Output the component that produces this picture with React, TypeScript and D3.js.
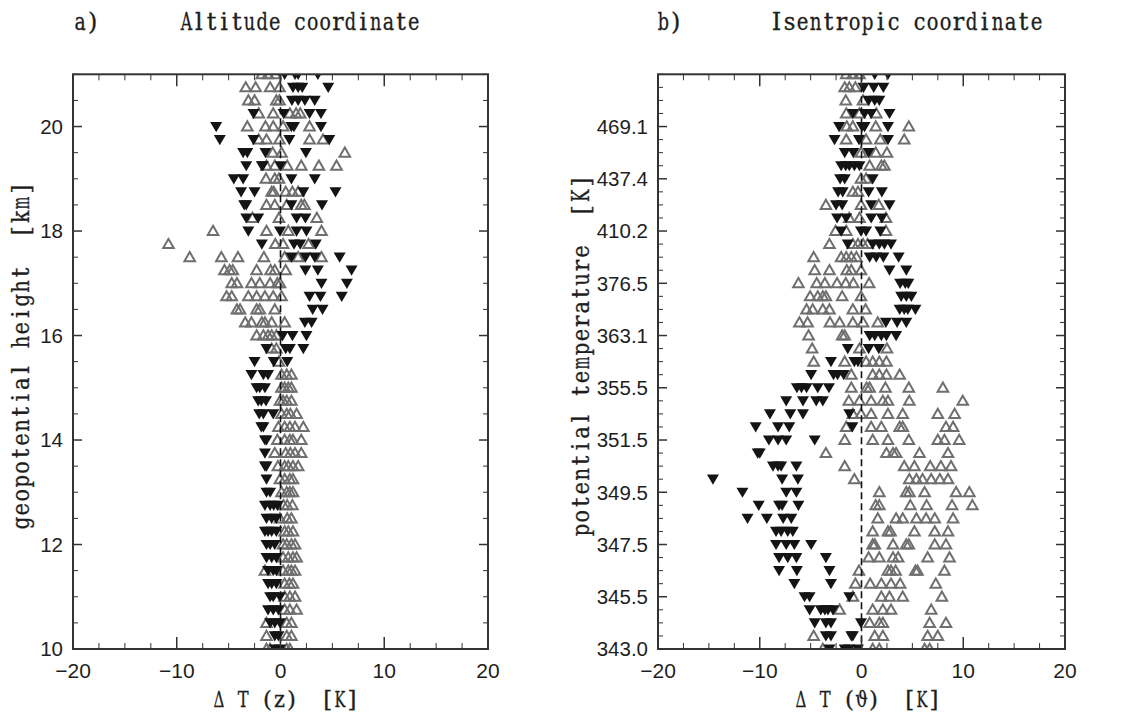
import React from "react";
import * as d3 from "d3";

// Row levels (geopotential height in km for panel a; level index positions for panel b)
const rowLevels = [21, 20.75, 20.5, 20.25, 20, 19.75, 19.5, 19.25, 19, 18.75, 18.5, 18.25, 18, 17.75, 17.5, 17.25, 17, 16.75, 16.5, 16.25, 16, 15.75, 15.5, 15.25, 15, 14.75, 14.5, 14.25, 14, 13.75, 13.5, 13.25, 13, 12.75, 12.5, 12.25, 12, 11.75, 11.5, 11.25, 11, 10.75, 10.5, 10.25, 10];

// Panel a: open grey up-triangles
const altGray: number[][] = [
  [-1.8, -1.2, -0.5],
  [-3.35, -2.4, -1.0, -0.1],
  [-3.1, -2.5, -0.4, -0.1],
  [-2.1, -0.7, 0.9, 1.5, 1.9],
  [-3.2, -1.45, -0.7, 0.25, 2.8],
  [-2.1, -1.35, -0.1, 2.8, 4.1],
  [-0.75, 0.1, 6.2],
  [-1.35, -0.55, 0.65, 2.0, 3.7, 5.4],
  [-1.4, -0.55, -0.15],
  [-0.85, -0.65, 0.5, 1.15, 1.7],
  [-1.35, -0.55, 0.6, 2.0, 2.3],
  [-2.7, -0.15, 3.5],
  [-6.5, -1.35, 0.75, 3.95],
  [-10.8, -0.5, 0.25, 2.7],
  [-8.75, -5.7, -4.1, -1.6, 0.4, 1.7, 3.95],
  [-5.4, -4.9, -4.6, -2.3, -0.95, -0.55, 0.5],
  [-4.7, -4.2, -2.8, -2.0, -1.0, -0.3, -0.05],
  [-5.2, -4.7, -3.1, -2.3, -1.5, -0.7, 0.1],
  [-4.2, -3.9, -2.3, -2.0, -0.55],
  [-3.4, -2.8, -1.8, -1.5, -0.85, 0.4],
  [-2.3, -1.65, -1.2, -0.85, -0.4],
  [-0.85, -0.4],
  [-0.15],
  [0.1, 0.6, 1.05],
  [0.1, 0.4, 0.75, 1.05],
  [-0.05, 0.25, 0.6, 1.05],
  [0.1, 0.6, 0.95, 1.55],
  [-0.2, 0.4, 0.9, 1.4, 2.2],
  [-0.3, 0.4, 0.9, 1.2, 2.0],
  [-0.55, 0.5, 0.95, 1.4, 2.0],
  [-0.25, 0.4, 0.75, 1.2, 1.7],
  [-0.05, 0.4, 0.9, 1.2],
  [0.1, 0.6, 0.9, 1.2],
  [0.3, 0.65, 1.15],
  [-0.05, 0.65, 1.05],
  [0.4, 0.75, 1.2],
  [0.25, 0.6, 1.05, 1.4],
  [0.25, 0.75, 1.2, 1.55],
  [-1.5, 0.25, 0.75, 1.05, 1.4],
  [0.4, 0.85, 1.2],
  [0.4, 0.9, 1.4],
  [0.4, 0.9, 1.55],
  [-1.35, 0.6, 1.05],
  [-1.35, 0.6, 1.05],
  [-1.35, -1.0, 0.6, 0.9],
];

// Panel a: filled black down-triangles
const altBlack: number[][] = [
  [0.4, 1.4, 1.7, 3.6],
  [1.2, 1.7, 2.1, 4.6],
  [1.1, 1.7, 2.35, 3.3],
  [-2.6, 0.3, 2.8, 3.9],
  [-6.2, 1.05, 1.3, 3.9],
  [-5.85, -2.6, 0.85, 4.7],
  [-3.6, -3.2, -1.45, 2.45],
  [-3.3, -1.8, -1.7, 0],
  [-4.5, -3.6, 1.05, 3.3],
  [-3.8, -2.5, 2.2, 5.3],
  [-3.5, -3.3, 1.05, 4.0],
  [-3.3, -2.15, 1.55, 2.4],
  [-3.1, -0.05, 1.55, 2.5],
  [-1.8, 1.3, 1.9, 3.4],
  [1.05, 2.4, 3.3, 5.7],
  [2.4, 3.6, 6.85],
  [3.95, 6.4],
  [2.8, 3.85, 5.9],
  [3.1, 4.05],
  [2.35, 3.0],
  [0.2, 1.15, 2.5],
  [-1.35, 0.5, 0.9, 2.2],
  [-2.5, -0.65, 0.65],
  [-2.8, -1.65, -1.2],
  [-2.3, -2.0, -1.5],
  [-2.15, -1.85, -1.4],
  [-2.05, -1.65, -0.7],
  [-1.85, -1.65],
  [-1.5, -1.35],
  [-1.5],
  [-1.5, -1.35],
  [-1.35],
  [-1.35, -1.0],
  [-1.5, -1.0, -0.65, -0.3],
  [-1.35, -0.85, -0.4],
  [-1.5, -1.2, -0.85, -0.4],
  [-1.35, -1.0, -0.55],
  [-1.35, -0.85, -0.4],
  [-1.2, -0.7, -0.4],
  [-1.2, -0.85, -0.4],
  [-1.0, -0.7, -0.05],
  [-1.2, -0.7, -0.2],
  [-1.0, -0.55, -0.05],
  [-0.55, -0.2],
  [-0.55, -0.05],
];

// Panel b: open grey up-triangles
const isenGray: number[][] = [
  [-1.5, -0.85, -0.2],
  [-1.65, -1.2, -0.6],
  [-1.55, 0.15],
  [-1.5, -0.2, 1.45],
  [-1.45, -0.85, 1.4, 4.65],
  [-1.5, 0.45, 1.85, 4.2],
  [-0.05, 1.4, 2.5],
  [0.8, 1.95, 2.25],
  [-0.05, 0.45],
  [-0.85, -0.35],
  [-3.5, -0.05, 1.7],
  [-1.2, -0.2, 2.4],
  [-2.55, -1.5, 2.4],
  [-3.15, -0.85, -0.35, 0.15, 0.6],
  [-4.7, -2.0, -1.5, -1.0, -0.5],
  [-4.6, -3.15, -1.45, -1.0, -0.05],
  [-6.2, -4.4, -3.6, -2.4, -1.55, -0.8, 0.75],
  [-5.05, -4.3, -3.8, -3.5, -1.9, -0.05],
  [-5.4, -4.8, -3.8, -3.15, -0.85, 0.4],
  [-6.1, -5.3, -3.1, -2.15, -0.85, 0.15, 1.6],
  [-5.2, -1.9, -1.65],
  [-4.85, -0.2, 2.5],
  [-4.7, -1.65, 0.45, 1.1, 1.75, 2.45],
  [-1.0, 1.1, 1.75, 2.45, 3.75],
  [-1.0, 0.5, 0.8, 2.35, 4.65, 8.0],
  [-1.25, -0.2, 0.95, 2.1, 2.6, 4.7, 9.95],
  [-0.85, -0.05, 0.95, 2.6, 4.05, 7.5, 9.15],
  [-1.5, 0.95, 1.95, 3.75, 4.05, 8.3, 9.0],
  [-1.65, 1.1, 2.6, 4.65, 7.5, 8.15, 9.6],
  [-3.5, 2.45, 3.1, 3.4, 5.7, 8.5],
  [-1.65, 4.2, 5.2, 6.75, 7.8, 8.8],
  [-0.7, 4.7, 5.4, 6.0, 6.85, 7.7, 8.5],
  [1.75, 4.4, 4.7, 6.2, 9.3, 10.6],
  [1.4, 1.75, 4.8, 6.4, 8.9, 10.9],
  [1.6, 3.4, 4.05, 5.4, 6.35, 7.2, 9.0],
  [1.1, 2.6, 2.85, 5.2, 7.2, 8.5],
  [1.1, 1.3, 3.1, 4.4, 4.65, 7.2, 8.3],
  [0.7, 1.75, 3.1, 3.6, 6.5, 8.65],
  [-0.25, 2.6, 2.9, 3.35, 5.3, 5.5, 8.15],
  [-0.6, 0.85, 1.95, 2.9, 3.8, 7.3],
  [-0.85, 1.95, 2.75, 4.05, 7.9],
  [-2.15, 1.1, 2.1, 2.9, 6.85],
  [0.8, 1.75, 2.1, 6.7, 8.3],
  [-4.7, 1.3, 2.1, 6.5, 7.5],
  [-3.8, 1.1, 1.75, 6.2, 6.7],
];

// Panel b: filled black down-triangles
const isenBlack: number[][] = [
  [1.3, 2.6],
  [0.2, 1.2, 2.15],
  [0.7, 1.3, 1.75],
  [-0.85, 0.3, 0.95, 2.75],
  [-2.2, 0.05, 0.3, 2.6],
  [-2.65, -0.25, 2.6],
  [-1.65, -0.8, 0.7],
  [-2.0, -1.55, -1.2, -0.7, -0.2],
  [-2.1, -1.65, 1.1],
  [-2.3, -1.85, 0.7, 2.0],
  [-2.5, -1.9, 0.95, 2.75],
  [-2.4, -1.5, 0.95, 2.0],
  [-2.0, -0.05, 0.45, 1.85],
  [-1.35, 1.1, 1.75, 2.25, 2.9],
  [0.8, 1.45, 2.15, 3.65],
  [2.75, 4.4],
  [3.8, 4.3, 4.6],
  [3.9, 4.4, 4.9],
  [3.75, 4.2, 4.55, 5.3],
  [2.4, 3.5, 4.4],
  [0.8, 1.3, 1.95, 2.45, 3.4],
  [-1.35, 0.7, 1.7],
  [-3.0, -0.7, -0.35],
  [-4.95, -2.75, -2.35, -1.75],
  [-6.35, -5.9, -5.4, -4.3, -3.2],
  [-7.4, -5.75, -4.45, -3.8],
  [-9.0, -7.0, -5.75, -1.2],
  [-10.4, -8.2, -7.1, -0.9],
  [-9.1, -8.2, -7.4, -4.6],
  [-10.2, -10.0],
  [-8.7, -8.2, -7.9, -6.4],
  [-14.6, -7.8, -6.25],
  [-11.7, -7.4, -6.4],
  [-10.1, -8.1, -7.8, -6.2],
  [-11.2, -9.3, -7.7, -6.9],
  [-8.4, -7.9, -7.25, -6.75],
  [-8.4, -7.4, -6.6, -4.95],
  [-8.1, -7.25, -6.4, -3.5],
  [-8.1, -6.35, -3.15],
  [-6.6, -3.0],
  [-5.6, -5.1, -1.2],
  [-5.1, -4.0, -3.6, -3.3, -2.8],
  [-4.6, -3.5, -3.0, -0.05],
  [-3.5, -3.0, -1.0, -0.85],
  [-3.15, -1.65, -1.2, -0.35],
];

const xMajorTicks = [-20, -10, 0, 10, 20];
const altTicks = [10, 12, 14, 16, 18, 20];
const altTickLabels = ["10", "12", "14", "16", "18", "20"];
const isenTicks = [10, 11, 12, 13, 14, 15, 16, 17, 18, 19, 20];
const isenTickLabels = ["343.0", "345.5", "347.5", "349.5", "351.5", "355.5", "363.1", "376.5", "410.2", "437.4", "469.1"];

const SERIF = "'DejaVu Serif', 'Liberation Serif', serif";
const SANS = "'Liberation Sans', Arial, sans-serif";
const GREY = "#6f6f6f";
const BLACK = "#141414";
const FRAME = "#333";
const INK = "#1e1e1e";

// approximate DejaVu Serif advance widths (em) used to squeeze glyphs into typewriter cells
const ADV: Record<string, number> = {
  a: 0.596, b: 0.64, c: 0.56, d: 0.64, e: 0.592, g: 0.64, h: 0.644, i: 0.32, k: 0.612, l: 0.32,
  m: 0.948, n: 0.644, o: 0.602, p: 0.64, r: 0.478, s: 0.513, t: 0.402, u: 0.644, y: 0.565, z: 0.525,
  A: 0.722, I: 0.402, K: 0.752, T: 0.668, "(": 0.39, ")": 0.39, "[": 0.39, "]": 0.39,
  "\u0394": 0.722, "\u03D1": 0.62,
};

// Typewriter-style text: each glyph centred (and narrowed if needed) in a fixed-width cell
function MonoText(props: { x: number; y: number; text: string; width: number; size: number; rotate?: boolean }) {
  const chars = Array.from(props.text);
  const cw = props.width / chars.length;
  return (
    <g transform={`translate(${props.x},${props.y})${props.rotate ? " rotate(-90)" : ""}`}>
      {chars.map((c, i) => {
        if (c === " ") return null;
        const adv = (ADV[c] ?? 0.6) * props.size;
        const s = Math.min(1, (0.9 * cw) / adv);
        return (
          <text
            key={i}
            transform={`translate(${(i + 0.5) * cw},0) scale(${s.toFixed(3)},1)`}
            textAnchor="middle"
            fontFamily={SERIF}
            fontSize={props.size}
            fill={INK}
            stroke={INK}
            strokeWidth={0.3}
          >
            {c}
          </text>
        );
      })}
    </g>
  );
}

type PanelProps = {
  id: string;
  left: number;
  right: number;
  letter: string;
  letterX: number;
  title: string;
  titleX: number;
  titleW: number;
  xLabel: string;
  xLabelX: number;
  xLabelW: number;
  yLabel: string;
  yLabelX: number;
  yLabelY: number;
  yLabelW: number;
  yTicks: number[];
  yTickLabels: string[];
  yMinorStep: number;
  gray: number[][];
  black: number[][];
};

const TOP = 74.3;
const BOTTOM = 649;

function Panel(p: PanelProps) {
  const x = d3.scaleLinear().domain([-20, 20]).range([p.left, p.right]);
  const y = d3.scaleLinear().domain([10, 21]).range([BOTTOM, TOP]);
  const xMinor = d3.range(-20, 20.001, 2.5).filter((v) => !xMajorTicks.includes(v));
  const yMinor = d3.range(10, 21.001, p.yMinorStep).filter((v) => !p.yTicks.some((t) => Math.abs(t - v) < 1e-6));

  const up = (cx: number, cy: number) =>
    `M${cx},${cy - 5.2}L${cx + 5.3},${cy + 4.0}L${cx - 5.3},${cy + 4.0}Z`;
  const down = (cx: number, cy: number) =>
    `M${cx - 6},${cy - 4.6}L${cx + 6},${cy - 4.6}L${cx},${cy + 5.6}Z`;

  const grayMarks: JSX.Element[] = [];
  p.gray.forEach((row, i) =>
    row.forEach((v, j) =>
      grayMarks.push(
        <path key={`g${i}-${j}`} d={up(x(v), y(rowLevels[i]))} fill="none" stroke={GREY} strokeWidth={2} />
      )
    )
  );
  const blackMarks: JSX.Element[] = [];
  p.black.forEach((row, i) =>
    row.forEach((v, j) =>
      blackMarks.push(<path key={`b${i}-${j}`} d={down(x(v), y(rowLevels[i]))} fill={BLACK} />)
    )
  );

  return (
    <g>
      <defs>
        <clipPath id={`clip-${p.id}`}>
          <rect x={p.left} y={TOP} width={p.right - p.left} height={BOTTOM - TOP} />
        </clipPath>
      </defs>
      <MonoText x={p.letterX} y={30} text={p.letter} width={25} size={24} />
      <MonoText x={p.titleX} y={30} text={p.title} width={p.titleW} size={24} />

      <g clipPath={`url(#clip-${p.id})`}>
        {grayMarks}
        {blackMarks}
        <line x1={x(0)} x2={x(0)} y1={TOP} y2={BOTTOM} stroke="#111" strokeWidth={1.6} strokeDasharray="7,4" />
      </g>

      {xMajorTicks.map((t) => (
        <g key={`xm${t}`}>
          <line x1={x(t)} x2={x(t)} y1={BOTTOM} y2={BOTTOM - 12} stroke={FRAME} strokeWidth={1.5} />
          <line x1={x(t)} x2={x(t)} y1={TOP} y2={TOP + 12} stroke={FRAME} strokeWidth={1.5} />
          <text x={x(t)} y={678} textAnchor="middle" fontFamily={SANS} fontSize={21} fill={INK}>
            {t < 0 ? `\u2212${Math.abs(t)}` : `${t}`}
          </text>
        </g>
      ))}
      {xMinor.map((t) => (
        <g key={`xn${t}`}>
          <line x1={x(t)} x2={x(t)} y1={BOTTOM} y2={BOTTOM - 6} stroke={FRAME} strokeWidth={1} />
          <line x1={x(t)} x2={x(t)} y1={TOP} y2={TOP + 6} stroke={FRAME} strokeWidth={1} />
        </g>
      ))}
      {p.yTicks.map((t, i) => (
        <g key={`ym${t}`}>
          <line x1={p.left} x2={p.left + 9} y1={y(t)} y2={y(t)} stroke={FRAME} strokeWidth={1.5} />
          <line x1={p.right} x2={p.right - 9} y1={y(t)} y2={y(t)} stroke={FRAME} strokeWidth={1.5} />
          <text x={p.left - 10} y={y(t)} dy="0.36em" textAnchor="end" fontFamily={SANS} fontSize={20.5} fill={INK}>
            {p.yTickLabels[i]}
          </text>
        </g>
      ))}
      {yMinor.map((t) => (
        <g key={`yn${t}`}>
          <line x1={p.left} x2={p.left + 5} y1={y(t)} y2={y(t)} stroke={FRAME} strokeWidth={1} />
          <line x1={p.right} x2={p.right - 5} y1={y(t)} y2={y(t)} stroke={FRAME} strokeWidth={1} />
        </g>
      ))}

      <rect x={p.left} y={TOP} width={p.right - p.left} height={BOTTOM - TOP} fill="none" stroke={FRAME} strokeWidth={2} />

      <MonoText x={p.xLabelX} y={707} text={p.xLabel} width={p.xLabelW} size={23} />
      <MonoText x={p.yLabelX} y={p.yLabelY} text={p.yLabel} width={p.yLabelW} size={24} rotate />
    </g>
  );
}

export default function App() {
  return (
    <svg
      width={1130}
      height={715}
      viewBox="0 0 1130 715"
      style={{ position: "absolute", left: 0, top: 0, display: "block", background: "#fff" }}
    >
      <rect x={0} y={0} width={1130} height={715} fill="#fff" />
      <Panel
        id="a"
        left={73}
        right={488}
        letter="a)"
        letterX={74}
        title="Altitude coordinate"
        titleX={180}
        titleW={240}
        xLabel={"\u0394 T (z)  [K]"}
        xLabelX={213}
        xLabelW={145}
        yLabel="geopotential height  [km]"
        yLabelX={29}
        yLabelY={530}
        yLabelW={348}
        yTicks={altTicks}
        yTickLabels={altTickLabels}
        yMinorStep={0.5}
        gray={altGray}
        black={altBlack}
      />
      <Panel
        id="b"
        left={658}
        right={1065}
        letter="b)"
        letterX={657}
        title="Isentropic coordinate"
        titleX={770}
        titleW={273}
        xLabel={"\u0394 T (\u03D1)  [K]"}
        xLabelX={795}
        xLabelW={145}
        yLabel="potential temperature  [K]"
        yLabelX={589}
        yLabelY={537}
        yLabelW={362}
        yTicks={isenTicks}
        yTickLabels={isenTickLabels}
        yMinorStep={0.25}
        gray={isenGray}
        black={isenBlack}
      />
    </svg>
  );
}
